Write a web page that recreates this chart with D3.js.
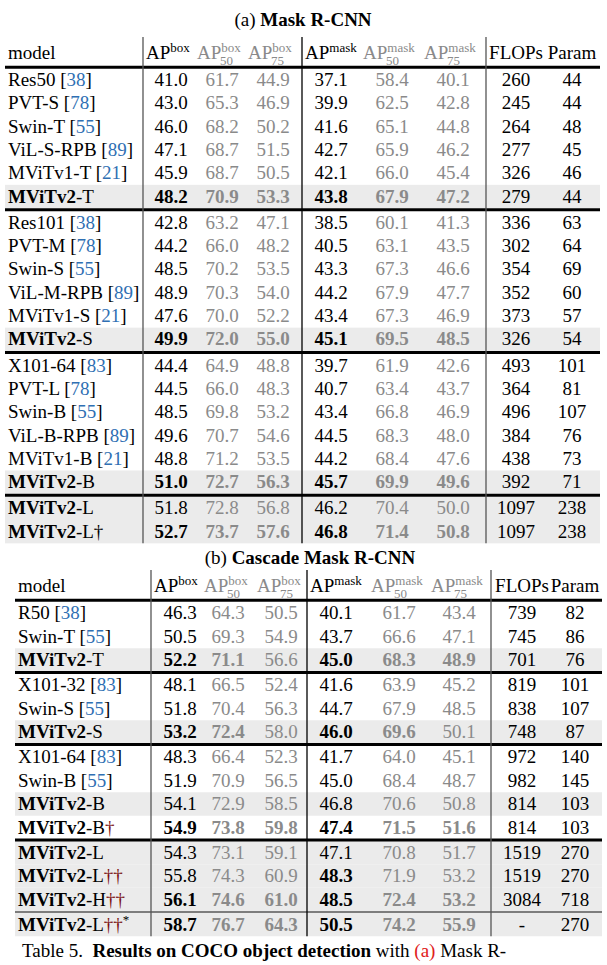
<!DOCTYPE html>
<html>
<head>
<meta charset="utf-8">
<style>
body{margin:0;background:#fff;}
svg text{font-family:"Liberation Serif","Times New Roman",serif;}
</style>
</head>
<body>
<svg id="chart" width="607" height="965"></svg>
<script src="https://cdn.jsdelivr.net/npm/d3@7"></script>
<script>

// table (a) Mask R-CNN
var modelsA = [
 ["Res50","38"],["PVT-S","78"],["Swin-T","55"],["ViL-S-RPB","89"],["MViTv1-T","21"],["MViTv2-T",""],
 ["Res101","38"],["PVT-M","78"],["Swin-S","55"],["ViL-M-RPB","89"],["MViTv1-S","21"],["MViTv2-S",""],
 ["X101-64","83"],["PVT-L","78"],["Swin-B","55"],["ViL-B-RPB","89"],["MViTv1-B","21"],["MViTv2-B",""],
 ["MViTv2-L",""],["MViTv2-L†",""]
];
var groupsA = [6,6,6,2];
var valuesA = [
 ["41.0","61.7","44.9","37.1","58.4","40.1","260","44"],
 ["43.0","65.3","46.9","39.9","62.5","42.8","245","44"],
 ["46.0","68.2","50.2","41.6","65.1","44.8","264","48"],
 ["47.1","68.7","51.5","42.7","65.9","46.2","277","45"],
 ["45.9","68.7","50.5","42.1","66.0","45.4","326","46"],
 ["48.2","70.9","53.3","43.8","67.9","47.2","279","44"],
 ["42.8","63.2","47.1","38.5","60.1","41.3","336","63"],
 ["44.2","66.0","48.2","40.5","63.1","43.5","302","64"],
 ["48.5","70.2","53.5","43.3","67.3","46.6","354","69"],
 ["48.9","70.3","54.0","44.2","67.9","47.7","352","60"],
 ["47.6","70.0","52.2","43.4","67.3","46.9","373","57"],
 ["49.9","72.0","55.0","45.1","69.5","48.5","326","54"],
 ["44.4","64.9","48.8","39.7","61.9","42.6","493","101"],
 ["44.5","66.0","48.3","40.7","63.4","43.7","364","81"],
 ["48.5","69.8","53.2","43.4","66.8","46.9","496","107"],
 ["49.6","70.7","54.6","44.5","68.3","48.0","384","76"],
 ["48.8","71.2","53.5","44.2","68.4","47.6","438","73"],
 ["51.0","72.7","56.3","45.7","69.9","49.6","392","71"],
 ["51.8","72.8","56.8","46.2","70.4","50.0","1097","238"],
 ["52.7","73.7","57.6","46.8","71.4","50.8","1097","238"]
];
var boldA = [[],[],[],[],[],[0,1,2,3,4,5],[],[],[],[],[],[0,1,2,3,4,5],
 [],[],[],[],[],[0,1,2,3,4,5],[],[0,1,2,3,4,5]];
var shadeA = [5,11,17,18,19];

// table (b) Cascade Mask R-CNN
var modelsB = [
 ["R50","38"],["Swin-T","55"],["MViTv2-T",""],
 ["X101-32","83"],["Swin-S","55"],["MViTv2-S",""],
 ["X101-64","83"],["Swin-B","55"],["MViTv2-B",""],["MViTv2-B†",""],
 ["MViTv2-L",""],["MViTv2-L††",""],["MViTv2-H††",""],
 ["MViTv2-L††*",""]
];
var groupsB = [3,3,4,3,1];
var valuesB = [
 ["46.3","64.3","50.5","40.1","61.7","43.4","739","82"],
 ["50.5","69.3","54.9","43.7","66.6","47.1","745","86"],
 ["52.2","71.1","56.6","45.0","68.3","48.9","701","76"],
 ["48.1","66.5","52.4","41.6","63.9","45.2","819","101"],
 ["51.8","70.4","56.3","44.7","67.9","48.5","838","107"],
 ["53.2","72.4","58.0","46.0","69.6","50.1","748","87"],
 ["48.3","66.4","52.3","41.7","64.0","45.1","972","140"],
 ["51.9","70.9","56.5","45.0","68.4","48.7","982","145"],
 ["54.1","72.9","58.5","46.8","70.6","50.8","814","103"],
 ["54.9","73.8","59.8","47.4","71.5","51.6","814","103"],
 ["54.3","73.1","59.1","47.1","70.8","51.7","1519","270"],
 ["55.8","74.3","60.9","48.3","71.9","53.2","1519","270"],
 ["56.1","74.6","61.0","48.5","72.4","53.2","3084","718"],
 ["58.7","76.7","64.3","50.5","74.2","55.9","-","270"]
];
var boldB = [[],[],[0,1,3,4,5],[],[],[0,1,3,4],[],[],[],[0,1,2,3,4,5],[],[3],[0,1,2,3,4,5],[0,1,2,3,4,5]];
var shadeB = [2,5,8,10,11,12,13];
var thickAfterB = [true,true,true,false];

var headers = [["AP","box",""],["AP","box","50"],["AP","box","75"],["AP","mask",""],["AP","mask","50"],["AP","mask","75"]];
var grayCols = [1,2,4,5];

var svg = d3.select("#chart");

function drawTable(cfg) {
  var g = svg.append("g");
  var colKeys = d3.range(8);
  var x = d3.scaleOrdinal().domain(colKeys).range(cfg.cols);
  var nRows = cfg.models.length;
  // row index -> y, with small gaps between groups
  var gi = [];
  cfg.groups.forEach(function(n, j){ for (var i = 0; i < n; i++) gi.push(j); });
  var y = function(i){ return cfg.y0 + i * cfg.step + gi[i] * cfg.gap; };
  var h = cfg.step / 2;

  g.selectAll("rect.shade").data(cfg.shade).enter().append("rect")
    .attr("x", cfg.left).attr("width", cfg.right - cfg.left)
    .attr("y", function(i){ return y(i) - h; }).attr("height", cfg.step)
    .attr("fill", "#ebebeb");

  // header
  g.append("text").attr("x", cfg.left + 3).attr("y", cfg.headY).attr("font-size", 19).text("model");
  headers.forEach(function(hd, c){
    var gray = grayCols.indexOf(c) >= 0;
    var t = g.append("text").attr("x", cfg.headX[c]).attr("y", cfg.headY)
      .attr("font-size", 19).attr("fill", gray ? "#8a8a8a" : "#000");
    t.append("tspan").text(hd[0]);
    t.append("tspan").attr("font-size", 13).attr("dy", -7).text(hd[1]);
    if (hd[2]) {
      g.append("text").attr("x", cfg.headX[c] + 23).attr("y", cfg.headY + 6)
        .attr("font-size", 13).attr("fill", "#8a8a8a").text(hd[2]);
    }
  });
  g.append("text").attr("x", cfg.cols[6]).attr("y", cfg.headY).attr("text-anchor", "middle").attr("font-size", 19).text("FLOPs");
  g.append("text").attr("x", cfg.cols[7]).attr("y", cfg.headY).attr("text-anchor", "middle").attr("font-size", 19).text("Param");

  // rows
  var rows = g.selectAll("g.row").data(cfg.models).enter().append("g")
    .attr("transform", function(d, i){ return "translate(0," + (y(i) + 6) + ")"; });
  rows.each(function(d, i){
    var r = d3.select(this);
    var t = r.append("text").attr("x", cfg.left + 3).attr("font-size", 19);
    var name = d[0];
    if (name.indexOf("MViTv2") === 0) {
      t.append("tspan").attr("font-weight", "bold").text("MViTv2");
      var rest = name.slice(6);
      var m = rest.match(/^([^†*]*)(.*)$/);
      t.append("tspan").text(m[1]);
      if (m[2]) t.append("tspan").attr("fill", cfg.daggerColor).text(m[2].replace("*", ""));
      if (m[2].indexOf("*") >= 0) t.append("tspan").attr("font-size", 13).attr("dy", -7).text("*");
    } else {
      t.append("tspan").text(name + " ");
      t.append("tspan").text("[");
      t.append("tspan").attr("fill", "#2f6fb3").text(d[1]);
      t.append("tspan").text("]");
    }
    r.selectAll("text.v").data(cfg.values[i]).enter().append("text")
      .attr("x", function(v, c){ return x(c); })
      .attr("text-anchor", "middle").attr("font-size", 19)
      .attr("font-weight", function(v, c){ return cfg.bold[i].indexOf(c) >= 0 ? "bold" : null; })
      .attr("fill", function(v, c){ return grayCols.indexOf(c) >= 0 ? "#8a8a8a" : "#000"; })
      .text(function(v){ return v; });
  });

  // horizontal rules
  var lastY = y(nRows - 1) + h;
  g.append("line").attr("x1", cfg.left).attr("x2", cfg.right).attr("y1", y(0) - h - 1).attr("y2", y(0) - h - 1)
    .attr("stroke", "#000").attr("stroke-width", 3);
  var idx = 0;
  cfg.groups.slice(0, -1).forEach(function(n, j){
    idx += n;
    var ly = (y(idx - 1) + y(idx)) / 2;
    var thick = cfg.thick ? cfg.thick[j] : true;
    g.append("line").attr("x1", cfg.left).attr("x2", cfg.right).attr("y1", ly).attr("y2", ly)
      .attr("stroke", "#000").attr("stroke-width", thick ? 3 : 1.2);
  });
  // vertical rules
  cfg.vlines.forEach(function(vx, j){
    g.append("line").attr("x1", vx).attr("x2", vx).attr("y1", cfg.headY - 22).attr("y2", lastY)
      .attr("stroke", j === 1 ? "#000" : "#555").attr("stroke-width", 1.3);
  });
}

svg.append("text").attr("x", 303).attr("y", 26).attr("text-anchor", "middle").attr("font-size", 19)
  .html('(a) <tspan font-weight="bold">Mask R-CNN</tspan>');

drawTable({
  models: modelsA, values: valuesA, bold: boldA, shade: shadeA, groups: groupsA,
  left: 5, right: 600, headY: 59, y0: 80, step: 23.3, gap: 3,
  cols: [171, 222, 273, 331, 392, 453, 516, 572],
  headX: [146, 197, 248, 305, 363, 424],
  vlines: [143, 302, 486], daggerColor: "#000"
});

svg.append("text").attr("x", 310).attr("y", 564).attr("text-anchor", "middle").attr("font-size", 19)
  .html('(b) <tspan font-weight="bold">Cascade Mask R-CNN</tspan>');

drawTable({
  models: modelsB, values: valuesB, bold: boldB, shade: shadeB, groups: groupsB, thick: thickAfterB,
  left: 15, right: 602, headY: 592, y0: 613, step: 23.5, gap: 1.5,
  cols: [180, 228, 281, 336, 399, 459, 522, 575],
  headX: [154, 204, 257, 310, 371, 431],
  vlines: [151, 307, 491], daggerColor: "#7a1010"
});

svg.append("text").attr("x", 22).attr("y", 957).attr("font-size", 19)
  .html('Table 5.&#160; <tspan font-weight="bold">Results on COCO object detection</tspan> with <tspan fill="#e02020">(a)</tspan> Mask R-');

</script>
</body>
</html>
